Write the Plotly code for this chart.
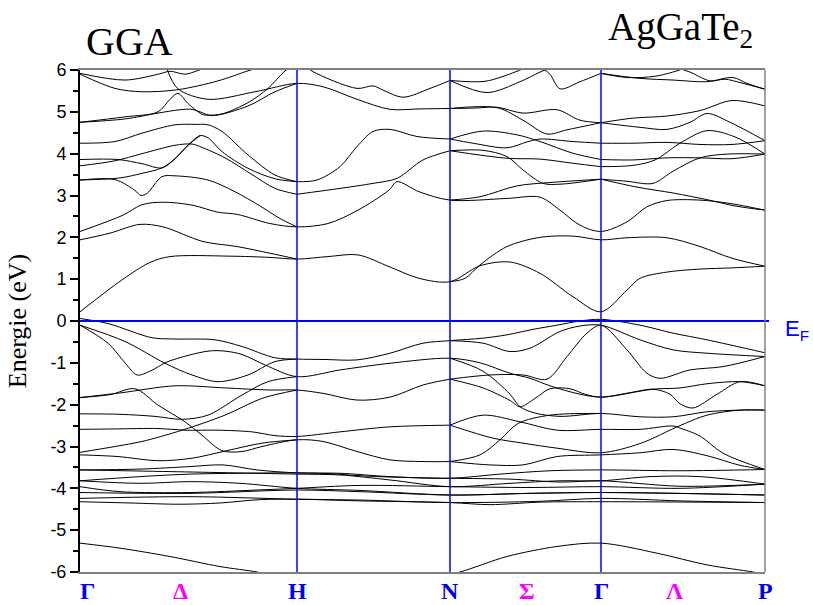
import plotly.graph_objects as go

# ---- high-symmetry points (k in arbitrary path units) ----
kpt_names = ["Γ", "Δ", "H", "N", "Σ", "Γ", "Λ", "P"]
kpt_pos = [7, 100, 217, 370, 447, 521, 595, 685]
kpt_colors = ["#0000ee", "#ff00ff", "#0000ee", "#0000ee", "#ff00ff", "#0000ee", "#ff00ff", "#0000ee"]
sym_lines = [217, 370, 521]

# ---- conduction bands ----
k_cb1 = [0, 43, 70, 90, 150, 190, 217, 248, 278, 309, 339, 370, 400, 430, 460, 493, 521, 547, 560, 587, 619, 652, 685]
e_cb1 = [0.22, 1.0, 1.4, 1.54, 1.55, 1.52, 1.48, 1.54, 1.58, 1.30, 1.02, 0.94, 1.32, 1.41, 1.14, 0.58, 0.22, 0.74, 1.02, 1.17, 1.24, 1.27, 1.31]
k_cb2 = [0, 30, 60, 83, 123, 157, 190, 217]
e_cb2 = [1.94, 2.10, 2.31, 2.25, 1.90, 1.78, 1.62, 1.48]
k_cb2b = [370, 385, 400, 427, 460, 493, 521, 547, 587, 620, 652, 685]
e_cb2b = [0.94, 1.02, 1.34, 1.78, 2.0, 2.03, 1.94, 1.99, 1.99, 1.78, 1.50, 1.31]
k_cb3 = [0, 43, 62, 83, 112, 138, 157, 190, 217, 248, 278, 309, 317, 339, 370, 427, 460, 480, 500, 521, 547, 567, 587, 620, 650, 685]
e_cb3 = [2.14, 2.53, 2.78, 2.84, 2.77, 2.60, 2.55, 2.33, 2.25, 2.33, 2.65, 3.13, 3.33, 3.09, 2.89, 2.93, 2.96, 2.65, 2.29, 2.14, 2.37, 2.73, 2.88, 2.89, 2.81, 2.65]
k_cb4 = [0, 35, 55, 61, 67, 82, 95, 128, 155, 180, 200, 217]
e_cb4 = [3.37, 3.38, 3.12, 3.0, 3.05, 3.45, 3.47, 3.37, 3.09, 2.75, 2.45, 2.25]
k_cb5 = [0, 40, 62, 82, 95, 108, 120]
e_cb5 = [3.37, 3.42, 3.53, 3.66, 3.88, 4.2, 4.43]
k_lh = [0, 38, 62, 82, 95, 108, 120, 128, 142, 168, 195, 217]
e_lh = [3.86, 3.86, 3.76, 3.66, 3.88, 4.2, 4.43, 4.38, 4.05, 3.65, 3.40, 3.33]
k_lg = [0, 35, 62, 95, 112, 122, 145, 172, 195, 217]
e_lg = [3.71, 3.83, 4.0, 4.2, 4.23, 4.15, 3.9, 3.5, 3.17, 3.03]
k_lf = [0, 35, 62, 95, 115, 128, 142, 168, 195, 217]
e_lf = [4.25, 4.29, 4.49, 4.69, 4.70, 4.69, 4.53, 3.97, 3.49, 3.33]
k_ld1 = [0, 45, 78, 90, 98, 108, 122, 128, 142, 168, 188, 205, 215]
e_ld1 = [4.75, 4.88, 5.0, 5.3, 5.44, 5.2, 4.94, 4.92, 4.95, 5.22, 5.56, 5.98, 6.15]
k_ld2 = [0, 45, 78, 100, 112, 120, 132, 168, 195, 217]
e_ld2 = [4.75, 4.83, 4.97, 5.05, 5.06, 5.0, 4.91, 5.14, 5.48, 5.68]
k_le = [87, 98, 128, 175, 217, 243, 277, 310, 340, 370]
e_le = [6.02, 5.55, 5.30, 5.48, 5.68, 5.60, 5.30, 5.06, 5.07, 5.08]
k_lc = [0, 35, 62, 98, 138, 168, 185]
e_lc = [5.90, 5.56, 5.48, 5.53, 5.74, 5.98, 6.1]
k_la = [0, 45, 80, 90, 105, 117, 125]
e_la = [5.92, 5.76, 5.91, 5.97, 5.9, 5.98, 6.05]
k_top2 = [225, 233, 277, 293, 303, 323, 350, 370]
e_top2 = [6.1, 5.96, 5.56, 5.62, 5.52, 5.35, 5.56, 5.75]
k_s1 = [217, 237, 260, 277, 293, 310, 337, 370]
e_s1 = [3.33, 3.37, 3.69, 4.17, 4.53, 4.58, 4.41, 4.35]
k_s2 = [217, 260, 293, 317, 343, 370]
e_s2 = [3.03, 3.17, 3.29, 3.41, 3.85, 4.07]
k_u1 = [370, 407, 440, 460, 470]
e_u1 = [5.75, 5.46, 5.72, 5.95, 6.05]
k_u2 = [370, 405, 435, 445]
e_u2 = [5.75, 5.73, 5.95, 6.05]
k_u3 = [462, 470, 480, 500, 521]
e_u3 = [6.05, 5.9, 5.55, 5.72, 5.92]
k_u4 = [370, 395, 417, 443, 477, 500, 521]
e_u4 = [5.08, 5.09, 5.11, 4.97, 5.05, 4.80, 4.74]
k_u5 = [370, 417, 443, 467, 487, 521]
e_u5 = [5.08, 5.1, 4.8, 4.47, 4.57, 4.74]
k_u6 = [370, 403, 437, 460, 493, 521]
e_u6 = [4.35, 4.54, 4.45, 4.29, 4.01, 3.86]
k_u7 = [370, 393, 427, 447, 460, 493, 521]
e_u7 = [4.35, 4.25, 4.14, 4.28, 4.35, 4.29, 4.25]
k_u8 = [370, 403, 427, 443, 463, 480, 521]
e_u8 = [4.07, 4.08, 3.93, 3.61, 3.29, 3.27, 3.39]
k_u9 = [370, 427, 460, 493, 521]
e_u9 = [4.07, 3.89, 3.87, 3.77, 3.69]
k_u10 = [370, 400, 437, 470, 521]
e_u10 = [2.89, 2.97, 3.23, 3.31, 3.39]
k_v1 = [521, 547, 575, 597, 605]
e_v1 = [5.92, 5.82, 5.85, 5.98, 6.05]
k_v2 = [521, 560, 593, 627, 653, 667, 685]
e_v2 = [5.92, 5.80, 5.76, 5.72, 5.82, 5.68, 5.54]
k_v3 = [597, 610, 630, 645, 660, 685]
e_v3 = [6.05, 5.95, 5.74, 5.78, 5.70, 5.54]
k_v4 = [521, 553, 587, 620, 652, 685]
e_v4 = [4.74, 4.85, 4.90, 5.03, 5.27, 5.14]
k_v5 = [521, 560, 587, 610, 627, 650, 685]
e_v5 = [4.74, 4.63, 4.58, 4.75, 4.96, 4.75, 4.31]
k_v6 = [521, 553, 587, 620, 652, 685]
e_v6 = [4.25, 4.25, 4.27, 4.22, 4.22, 4.31]
k_v7 = [521, 553, 587, 620, 652, 685]
e_v7 = [3.86, 3.85, 3.90, 3.90, 3.88, 3.99]
k_v8 = [521, 553, 575, 600, 627, 655, 685]
e_v8 = [3.69, 3.72, 3.85, 4.25, 4.55, 4.4, 3.99]
k_v9 = [521, 547, 573, 593, 620, 647, 685]
e_v9 = [3.39, 3.34, 3.29, 3.58, 3.90, 3.99, 3.99]
k_v10 = [521, 557, 593, 627, 655, 685]
e_v10 = [3.39, 3.20, 3.06, 2.90, 2.75, 2.65]

# ---- valence bands ----
k_vb1 = [0, 28, 72, 95, 135, 162, 195, 217, 245, 277, 310, 343, 370, 403, 427, 453, 477, 500, 521, 560, 593, 627, 685]
e_vb1 = [0.06, -0.06, -0.40, -0.43, -0.45, -0.61, -0.88, -0.91, -0.92, -0.93, -0.77, -0.53, -0.47, -0.41, -0.33, -0.2, -0.1, 0.0, 0.04, -0.1, -0.29, -0.45, -0.76]
k_vb2 = [0, 45, 85, 112, 138, 168, 195, 217]
e_vb2 = [-0.1, -0.49, -1.01, -1.29, -1.45, -1.29, -0.97, -0.91]
k_vb2b = [370, 403, 430, 450, 480, 500, 521, 560, 593, 627, 685]
e_vb2b = [-0.47, -0.53, -0.73, -0.65, -0.25, -0.12, -0.1, -0.45, -0.69, -0.77, -0.85]
k_vb3 = [0, 28, 45, 57, 70, 88, 128, 145, 162, 185, 217, 260, 310, 370, 400, 430, 450, 470, 500, 521, 553, 573, 590, 600, 613, 637, 660, 685]
e_vb3 = [-0.1, -0.53, -1.0, -1.29, -1.2, -0.97, -0.72, -0.72, -0.8, -1.05, -1.33, -1.17, -1.01, -0.89, -1.0, -1.25, -1.37, -1.55, -1.75, -1.82, -1.7, -1.63, -1.75, -1.98, -2.08, -1.75, -1.45, -1.55]
k_ve = [370, 403, 430, 440, 455, 480, 521, 560, 593, 627, 660, 685]
e_ve = [-0.89, -1.2, -1.75, -2.05, -2.2, -2.28, -2.21, -2.29, -2.29, -2.17, -2.13, -2.13]
k_vf = [370, 403, 430, 440, 455, 470, 490, 505, 521, 573, 600, 627, 660, 685]
e_vf = [-1.39, -1.6, -1.9, -2.05, -1.85, -1.62, -1.62, -1.75, -1.82, -1.63, -1.6, -1.5, -1.45, -1.55]
k_vc = [370, 410, 443, 467, 487, 507, 521, 547, 567, 580, 610, 643, 685]
e_vc = [-1.39, -1.29, -1.29, -1.39, -0.85, -0.29, -0.1, -0.69, -1.25, -1.37, -1.17, -1.09, -0.85]
k_vb4 = [0, 30, 55, 78, 105, 122, 142, 162, 182, 217, 243, 277, 310, 343, 370]
e_vb4 = [-1.83, -1.76, -1.62, -2.01, -2.41, -2.73, -3.1, -3.12, -3.0, -2.84, -2.88, -3.12, -3.32, -3.36, -3.36]
k_vb5 = [0, 40, 95, 145, 190, 217, 243, 277, 310, 343, 370]
e_vb5 = [-1.83, -1.72, -1.55, -1.6, -1.65, -1.65, -1.73, -1.89, -1.82, -1.53, -1.39]
k_vb6 = [0, 40, 75, 102, 128, 162, 188, 217]
e_vb6 = [-2.22, -2.23, -2.28, -2.35, -2.25, -1.77, -1.45, -1.33]
k_vb7 = [0, 35, 78, 105, 138, 172, 195, 217, 260, 310, 370]
e_vb7 = [-2.59, -2.58, -2.57, -2.61, -2.61, -2.65, -2.74, -2.76, -2.65, -2.53, -2.49]
k_vb8 = [0, 35, 62, 102, 145, 182, 217]
e_vb8 = [-3.14, -3.0, -2.88, -2.61, -2.25, -1.85, -1.65]
k_vb9 = [0, 38, 78, 112, 145, 182, 217]
e_vb9 = [-3.2, -3.24, -3.34, -3.28, -3.11, -2.92, -2.84]
k_vg = [370, 403, 440, 477, 521, 560, 593, 600, 620, 643, 685]
e_vg = [-2.49, -2.25, -2.41, -2.61, -2.59, -2.59, -2.51, -2.56, -2.75, -3.16, -3.55]
k_vh = [370, 400, 420, 438, 470, 521]
e_vh = [-3.36, -3.2, -2.84, -2.45, -2.25, -2.21]
k_vi = [370, 413, 443, 477, 521, 560, 600, 627, 660, 685]
e_vi = [-2.49, -2.8, -2.92, -3.04, -3.15, -2.93, -2.5, -2.25, -2.13, -2.13]
k_vj = [370, 410, 443, 477, 521, 560, 593, 627, 660, 685]
e_vj = [-3.36, -3.44, -3.44, -3.24, -3.2, -3.15, -3.07, -3.22, -3.45, -3.55]
k_lc1 = [0, 60, 110, 143, 177, 217, 260, 310, 370, 420, 470, 521, 600, 685]
e_lc1 = [-3.56, -3.54, -3.48, -3.44, -3.56, -3.63, -3.64, -3.72, -3.76, -3.66, -3.58, -3.56, -3.58, -3.55]
k_lc2 = [0, 90, 217, 260, 310, 370, 430, 480, 521, 570, 620, 685]
e_lc2 = [-3.56, -3.6, -3.66, -3.68, -3.8, -3.96, -3.88, -3.82, -3.82, -3.72, -3.72, -3.9]
k_lc3 = [0, 60, 110, 160, 217, 250, 280, 310, 370, 430, 480, 521, 600, 685]
e_lc3 = [-3.82, -3.72, -3.66, -3.64, -3.63, -3.65, -3.7, -3.73, -3.76, -3.78, -3.85, -3.82, -3.95, -3.9]
k_lc4 = [0, 60, 110, 160, 217, 280, 370, 450, 521, 600, 685]
e_lc4 = [-3.82, -3.88, -3.84, -3.88, -4.0, -4.05, -4.16, -4.12, -4.1, -4.12, -4.16]
k_lc5 = [0, 40, 110, 177, 217, 280, 370, 450, 521, 600, 685]
e_lc5 = [-3.96, -4.08, -4.1, -4.04, -4.0, -3.93, -3.96, -3.98, -3.96, -4.0, -3.9]
k_lc6 = [0, 110, 217, 280, 370, 450, 521, 685]
e_lc6 = [-4.1, -4.12, -4.04, -4.08, -4.16, -4.12, -4.1, -4.16]
k_lc7 = [0, 110, 217, 280, 370, 460, 521, 600, 685]
e_lc7 = [-4.24, -4.2, -4.26, -4.28, -4.34, -4.31, -4.24, -4.3, -4.34]
k_lc8 = [0, 50, 100, 140, 180, 217, 280, 370, 410, 460, 521, 685]
e_lc8 = [-4.32, -4.35, -4.38, -4.35, -4.27, -4.26, -4.3, -4.34, -4.39, -4.33, -4.32, -4.34]
k_deep1 = [0, 40, 90, 140, 177, 195]
e_deep1 = [-5.31, -5.43, -5.63, -5.87, -6.0, -6.1]
k_deep2 = [360, 380, 427, 477, 521, 577, 627, 673, 690]
e_deep2 = [-6.1, -6.0, -5.63, -5.39, -5.31, -5.55, -5.83, -6.0, -6.08]

y_ticks = [-6, -5, -4, -3, -2, -1, 0, 1, 2, 3, 4, 5, 6]

bands = [
    (k_cb1, e_cb1), (k_cb2, e_cb2), (k_cb2b, e_cb2b), (k_cb3, e_cb3), (k_cb4, e_cb4),
    (k_cb5, e_cb5), (k_lh, e_lh), (k_lg, e_lg), (k_lf, e_lf), (k_ld1, e_ld1), (k_ld2, e_ld2),
    (k_le, e_le), (k_lc, e_lc), (k_la, e_la), (k_top2, e_top2), (k_s1, e_s1), (k_s2, e_s2),
    (k_u1, e_u1), (k_u2, e_u2), (k_u3, e_u3), (k_u4, e_u4), (k_u5, e_u5), (k_u6, e_u6),
    (k_u7, e_u7), (k_u8, e_u8), (k_u9, e_u9), (k_u10, e_u10), (k_v1, e_v1), (k_v2, e_v2),
    (k_v3, e_v3), (k_v4, e_v4), (k_v5, e_v5), (k_v6, e_v6), (k_v7, e_v7), (k_v8, e_v8),
    (k_v9, e_v9), (k_v10, e_v10),
    (k_vb1, e_vb1), (k_vb2, e_vb2), (k_vb2b, e_vb2b), (k_vb3, e_vb3), (k_ve, e_ve),
    (k_vf, e_vf), (k_vc, e_vc), (k_vb4, e_vb4), (k_vb5, e_vb5), (k_vb6, e_vb6),
    (k_vb7, e_vb7), (k_vb8, e_vb8), (k_vb9, e_vb9), (k_vg, e_vg), (k_vh, e_vh),
    (k_vi, e_vi), (k_vj, e_vj), (k_lc1, e_lc1), (k_lc2, e_lc2), (k_lc3, e_lc3),
    (k_lc4, e_lc4), (k_lc5, e_lc5), (k_lc6, e_lc6), (k_lc7, e_lc7), (k_lc8, e_lc8),
    (k_deep1, e_deep1), (k_deep2, e_deep2),
]

fig = go.Figure()
for kk, ee in bands:
    fig.add_trace(go.Scatter(x=kk, y=ee, mode="lines",
                             line=dict(color="black", width=1, shape="spline", smoothing=0.9),
                             hoverinfo="skip", showlegend=False))

shapes = []
for xv in sym_lines:
    shapes.append(dict(type="line", xref="x", yref="paper", x0=xv, x1=xv, y0=0, y1=1,
                       line=dict(color="#0000ff", width=1.5), layer="above"))
shapes.append(dict(type="line", xref="paper", yref="y", x0=0, x1=1.006, y0=0, y1=0,
                   line=dict(color="#0000ff", width=2), layer="above"))
shapes.append(dict(type="line", xref="paper", yref="paper", x0=1, x1=1, y0=0, y1=1,
                   line=dict(color="#808080", width=1.5), layer="above"))

ann = []
for name, pos, col in zip(kpt_names, kpt_pos, kpt_colors):
    ann.append(dict(x=pos, y=-0.038, xref="x", yref="paper", text="<b>%s</b>" % name,
                    showarrow=False, xanchor="center", yanchor="middle",
                    font=dict(family="Liberation Serif", size=24, color=col)))
ann.append(dict(x=0.072, y=1.057, xref="paper", yref="paper", text="GGA", showarrow=False,
                xanchor="center", yanchor="middle",
                font=dict(family="Liberation Serif", size=40, color="black")))
ann.append(dict(x=0.877, y=1.08, xref="paper", yref="paper", text="AgGaTe<sub>2</sub>",
                showarrow=False, xanchor="center", yanchor="middle",
                font=dict(family="Liberation Serif", size=39, color="black")))
ann.append(dict(x=1.027, y=0.482, xref="paper", yref="paper", text="E<sub>F</sub>",
                showarrow=False, xanchor="left", yanchor="middle",
                font=dict(family="Liberation Sans", size=22, color="#0000ff")))

fig.update_layout(
    width=813, height=605, margin=dict(l=80, r=48, t=70, b=33),
    plot_bgcolor="white", paper_bgcolor="white",
    shapes=shapes, annotations=ann,
    xaxis=dict(range=[0, 685], showticklabels=False, ticks="", showgrid=False, zeroline=False,
               showline=True, linecolor="#808080", linewidth=2, mirror=True),
    yaxis=dict(range=[-6, 6], tickvals=y_ticks, ticktext=[str(v) for v in y_ticks],
               ticks="outside", ticklen=8, tickwidth=2, tickcolor="black",
               showgrid=False, zeroline=False, showline=True, linecolor="black", linewidth=2,
               tickfont=dict(family="Liberation Sans", size=18, color="black"),
               minor=dict(dtick=0.5, tick0=0, ticks="outside", ticklen=5, tickwidth=1.5, tickcolor="black"),
               title=dict(text="Energie (eV)", standoff=16,
                          font=dict(family="Liberation Serif", size=26, color="black"))),
)

fig.write_html("out.html")
